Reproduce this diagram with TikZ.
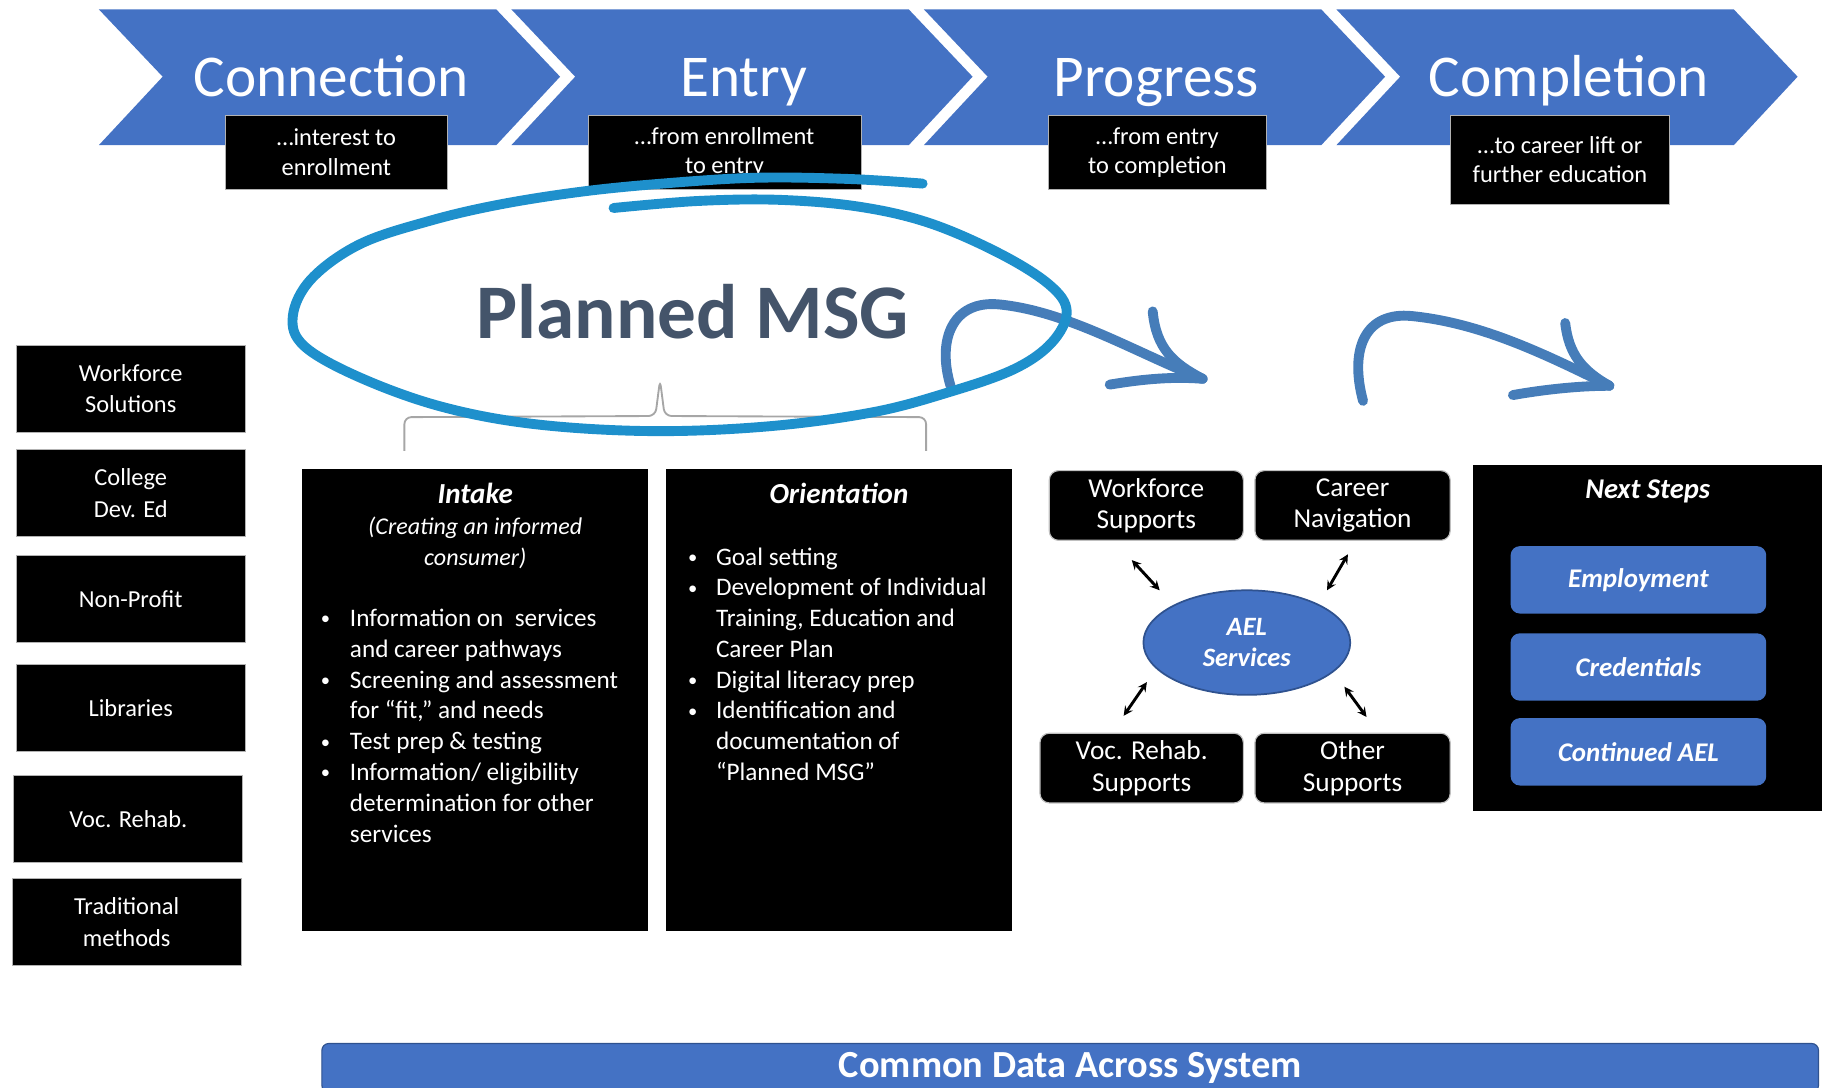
\documentclass[tikz,border=0pt]{standalone}
\usepackage{fontspec}
\setmainfont{Carlito}
\usetikzlibrary{shapes.geometric}
\definecolor{aelblue}{HTML}{4472C4}
\definecolor{aeldark}{HTML}{2F528F}
\definecolor{circblue}{RGB}{30,144,204}
\definecolor{penblue}{RGB}{70,125,185}
\definecolor{msgslate}{HTML}{44546A}
\definecolor{bracegray}{HTML}{A6A6A6}
\newcommand{\dotmark}{\raisebox{1.5pt}{\fontsize{16}{16}\selectfont\textbullet}}
\tikzset{
  phase/.style={text=white, anchor=base, font=\fontsize{51}{61}\selectfont},
  subbox/.style={fill=black, draw=gray!60, line width=0.8pt, text=white, align=center, inner sep=0pt, minimum height=64pt, font=\fontsize{21}{25}\selectfont},
  srcbox/.style={fill=black, draw=gray!60, line width=0.8pt, text=white, align=center, inner sep=0pt, minimum width=197pt, minimum height=75pt, font=\fontsize{21}{27}\selectfont},
  supbox/.style={fill=black, draw=gray!50, line width=1pt, rounded corners=8pt, text=white, align=center, inner sep=0pt, minimum height=60pt, font=\fontsize{23.5}{27}\selectfont},
  stepbox/.style={fill=aelblue, rounded corners=8pt, text=white, inner sep=0pt, minimum width=220pt, minimum height=58pt, font=\fontsize{23.2}{27}\selectfont\bfseries\itshape},
  boxtitle/.style={text=white, font=\fontsize{25}{30}\selectfont\bfseries\itshape},
  listtext/.style={text=white, anchor=north west, inner sep=0pt, font=\fontsize{21.7}{26.5}\selectfont},
  pen/.style={penblue, line width=8.5pt, line cap=round, line join=round},
  dbl/.style={<->, >=stealth, line width=2.5pt}
}
\begin{document}
\begin{tikzpicture}[x=1pt,y=-1pt]
	\useasboundingbox (0,0) rectangle (1568,936);
	\foreach \x/\t [count=\i] in {85/Connection,440/Entry,795/Progress,1150/Completion}{
		\fill[aelblue] (\x,8) -- ++(342,0) -- ++(55,58) -- ++(-55,59) -- ++(-342,0) -- ++(55,-59) -- cycle;% chevron
		\node[phase] (phase\i) at (\x+200,83) {\t};
	}
	\node[subbox, minimum width=191pt] (sub1) at (289.5,131) {…interest to\\enrollment};
	\node[subbox, minimum width=235pt] (sub2) at (623.5,131) {…from enrollment\\to entry};
	\node[subbox, minimum width=188pt] (sub3) at (996,131) {…from entry\\to completion};
	\node[subbox, minimum width=189pt, minimum height=77pt] (sub4) at (1342.5,137.5) {…to career lift or\\further education};
	\draw[bracegray, line width=1.6pt, rounded corners=6pt] (348,388) -- (348,359) -- (564,358) -- (568,327) -- (572,358) -- (797,359) -- (797,388);% brace
	% hand drawn arrows
	\draw[pen] (818,332) .. controls (806,292) and (820,258) .. (860,262) .. controls (920,268) and (980,305) .. (1035,326);
	\draw[pen] (992,268) .. controls (995,300) and (1010,313) .. (1035,326);
	\draw[pen] (955,331) .. controls (985,326) and (1010,324) .. (1035,326);
	\draw[pen] (1173,345) .. controls (1161,300) and (1175,268) .. (1215,272) .. controls (1275,278) and (1330,305) .. (1385,332);
	\draw[pen] (1347,278) .. controls (1350,305) and (1362,319) .. (1385,332);
	\draw[pen] (1302,340) .. controls (1330,335) and (1360,332) .. (1385,332);
	% circle round the goal
	\draw[circblue, line width=8.5pt, line cap=round] plot[smooth, tension=0.6] coordinates {(528,179) (600,173) (671,172) (740,178) (800,192) (860,218) (903,245) (918,268) (905,295) (872,318) (815,338) (750,355) (660,367) (560,371) (460,365) (380,350) (310,325) (262,298) (252,272) (268,240) (310,210) (370,190) (430,176) (500,165) (570,158) (650,153) (730,154) (794,158)};
	\node[text=msgslate, font=\fontsize{66.5}{80}\selectfont\bfseries] (msg) at (596,268) {Planned MSG};
	% outreach partners
	\node[srcbox] (wfs) at (112.5,334.5) {Workforce\\Solutions};
	\node[srcbox] (cde) at (112.5,424.5) {College\\Dev. Ed};
	\node[srcbox] (npf) at (112.5,515.5) {Non-Profit};
	\node[srcbox] (lib) at (112.5,609.5) {Libraries};
	\node[srcbox] (vrh) at (110.5,704.5) {Voc. Rehab.};
	\node[srcbox] (trd) at (109,793.5) {Traditional\\methods};
	% intake and orientation
	\node[fill=black, inner sep=0pt, minimum width=298pt, minimum height=397pt] (intake) at (409,602.5) {};
	\node[boxtitle] (intaketitle) at (409,425) {Intake};
	\node[text=white, align=center, font=\fontsize{20.7}{27}\selectfont\itshape] (intakesub) at (409,467) {(Creating an informed\\consumer)};
	\node[listtext] (intakelist) at (276,520.5) {\begin{tabular}{@{}p{25pt}@{}l@{}}
		\dotmark & Information on\ \ services\\
		& and career pathways\\
		\dotmark & Screening and assessment\\
		& for “fit,” and needs\\
		\dotmark & Test prep \& testing\\
		\dotmark & Information/ eligibility\\
		& determination for other\\
		& services
	\end{tabular}};
	\node[fill=black, inner sep=0pt, minimum width=298pt, minimum height=397pt] (orient) at (722,602.5) {};
	\node[boxtitle] (orienttitle) at (722,425) {Orientation};
	\node[listtext] (orientlist) at (592,467.5) {\begin{tabular}{@{}p{24pt}@{}l@{}}
		\dotmark & Goal setting\\
		\dotmark & Development of Individual\\
		& Training, Education and\\
		& Career Plan\\
		\dotmark & Digital literacy prep\\
		\dotmark & Identification and\\
		& documentation of\\
		& “Planned MSG”
	\end{tabular}};
	% AEL services and supports
	\node[supbox, minimum width=167pt] (wsup) at (986.5,435) {Workforce\\Supports};
	\node[supbox, minimum width=168pt] (cnav) at (1164,435) {Career\\Navigation};
	\node[supbox, minimum width=175pt] (vsup) at (982.5,661) {Voc. Rehab.\\Supports};
	\node[supbox, minimum width=168pt] (osup) at (1164,661) {Other\\Supports};
	\node[ellipse, fill=aelblue, draw=aeldark, line width=1.5pt, minimum width=178pt, minimum height=90pt, inner sep=0pt, text=white, align=center, font=\fontsize{22.8}{26}\selectfont\bfseries\itshape] (ael) at (1073,553) {AEL\\Services};
	\coordinate (wsupend) at (974,482);
	\coordinate (cnavend) at (1160,477);
	\coordinate (vsupend) at (967,616);
	\coordinate (osupend) at (1176,617);
	\coordinate (aelnw) at (998,508);
	\coordinate (aelne) at (1142,508);
	\coordinate (aelsw) at (987,587);
	\coordinate (aelse) at (1157,591);
	\draw[dbl] (wsupend) -- (aelnw);
	\draw[dbl] (cnavend) -- (aelne);
	\draw[dbl] (vsupend) -- (aelsw);
	\draw[dbl] (osupend) -- (aelse);
	% next steps
	\node[fill=black, inner sep=0pt, minimum width=300pt, minimum height=298pt] (next) at (1418,549) {};
	\node[boxtitle, font=\fontsize{24.6}{30}\selectfont\bfseries\itshape] (nexttitle) at (1418,423) {Next Steps};
	\node[stepbox] (emp) at (1410,499) {Employment};
	\node[stepbox] (cred) at (1410,574) {Credentials};
	\node[stepbox] (cael) at (1410,647) {Continued AEL};
	\node[fill=aelblue, draw=aeldark, line width=1pt, rounded corners=6pt, minimum width=1288pt, minimum height=42pt, text=white, font=\fontsize{33}{40}\selectfont\bfseries] (data) at (921,919) {Common Data Across System};
\end{tikzpicture}
\end{document}
